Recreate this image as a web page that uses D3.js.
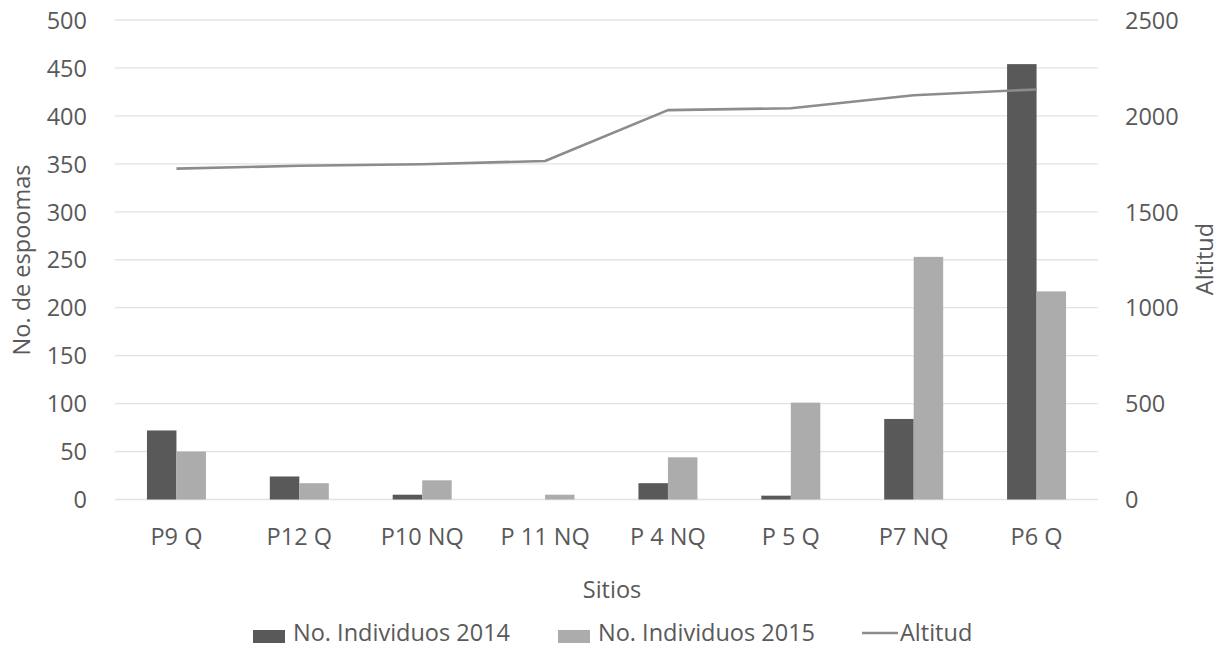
<!DOCTYPE html>
<html>
<head>
<meta charset="utf-8">
<script src="https://cdn.jsdelivr.net/npm/d3@7"></script>
<style>
  html, body { margin: 0; padding: 0; background: #fff; }
  svg text { font-family: "Open Sans", "Noto Sans", sans-serif; fill: #595959; }
</style>
</head>
<body>
<svg id="chart" width="1227" height="651"></svg>
<script>
// Sites sampled and their counts per year, plus the altitude of each site
const sites = ["P9 Q", "P12 Q", "P10 NQ", "P 11 NQ", "P 4 NQ", "P 5 Q", "P7 NQ", "P6 Q"];
const ind2014 = [72, 24, 5, 0, 17, 4, 84, 454];
const ind2015 = [50, 17, 20, 5, 44, 101, 253, 217];
const altitud = [1725, 1740, 1748, 1765, 2030, 2040, 2108, 2138];
const leftTicks = [0, 50, 100, 150, 200, 250, 300, 350, 400, 450, 500];
const rightTicks = [0, 500, 1000, 1500, 2000, 2500];
const seriesNames = ["No. Individuos 2014", "No. Individuos 2015", "Altitud"];

const colors = { y2014: "#595959", y2015: "#acacac", alt: "#8c8c8c", grid: "#e3e3e3" };
const fontSize = "23.5px";

const svg = d3.select("#chart");
const m = { left: 115, right: 1098, top: 20, bottom: 499.5 };

const x = d3.scaleBand().domain(sites).range([m.left, m.right]).paddingInner(0.52).paddingOuter(0.26);
const sub = d3.scaleBand().domain(["y2014", "y2015"]).range([0, x.bandwidth()]);
const yL = d3.scaleLinear().domain([0, 500]).range([m.bottom, m.top]);
const yR = d3.scaleLinear().domain([0, 2500]).range([m.bottom, m.top]);

// Horizontal grid lines
svg.append("g").selectAll("line").data(leftTicks).join("line")
  .attr("x1", m.left).attr("x2", m.right)
  .attr("y1", d => yL(d)).attr("y2", d => yL(d))
  .attr("stroke", colors.grid).attr("stroke-width", 1.3);

// Left axis
const axL = svg.append("g").attr("transform", `translate(${m.left - 28},0)`)
  .call(d3.axisLeft(yL).tickValues(leftTicks).tickSize(0).tickPadding(0));
axL.select(".domain").remove();
axL.selectAll("text").style("font-size", fontSize).attr("dy", "0.35em");

// Right axis
const axR = svg.append("g").attr("transform", `translate(${m.right + 27},0)`)
  .call(d3.axisRight(yR).tickValues(rightTicks).tickFormat(d3.format("d")).tickSize(0).tickPadding(0));
axR.select(".domain").remove();
axR.selectAll("text").style("font-size", fontSize).attr("dy", "0.35em");

// Bars
const groups = svg.append("g").selectAll("g").data(sites).join("g")
  .attr("transform", d => `translate(${x(d)},0)`);
groups.append("rect")
  .attr("x", sub("y2014")).attr("width", sub.bandwidth())
  .attr("y", (d, i) => yL(ind2014[i])).attr("height", (d, i) => yL(0) - yL(ind2014[i]))
  .attr("fill", colors.y2014);
groups.append("rect")
  .attr("x", sub("y2015")).attr("width", sub.bandwidth())
  .attr("y", (d, i) => yL(ind2015[i])).attr("height", (d, i) => yL(0) - yL(ind2015[i]))
  .attr("fill", colors.y2015);

// Altitude line on the secondary axis
const line = d3.line().x((d, i) => x(sites[i]) + x.bandwidth() / 2).y(d => yR(d));
svg.append("path").datum(altitud).attr("d", line)
  .attr("fill", "none").attr("stroke", colors.alt).attr("stroke-width", 2.6)
  .attr("stroke-linejoin", "round");

// Category labels
const axX = svg.append("g").attr("transform", `translate(0,${m.bottom + 37})`)
  .call(d3.axisBottom(x).tickSize(0).tickPadding(0));
axX.select(".domain").remove();
axX.selectAll("text").style("font-size", fontSize).attr("dy", "0.35em");

// Axis titles
svg.append("text").attr("x", 612).attr("y", 590).attr("dy", "0.35em").attr("text-anchor", "middle")
  .style("font-size", fontSize).text("Sitios");
svg.append("text").attr("transform", "translate(22,260) rotate(-90)").attr("dy", "0.35em").attr("text-anchor", "middle")
  .style("font-size", fontSize).text("No. de espoomas");
svg.append("text").attr("transform", "translate(1205,259) rotate(-90)").attr("dy", "0.35em").attr("text-anchor", "middle")
  .style("font-size", fontSize).text("Altitud");

// Legend
const legend = svg.append("g");
const items = [
  { name: seriesNames[0], type: "rect", color: colors.y2014, x: 253 },
  { name: seriesNames[1], type: "rect", color: colors.y2015, x: 558 },
  { name: seriesNames[2], type: "line", color: colors.alt, x: 862 }
];
items.forEach(it => {
  if (it.type === "rect") {
    legend.append("rect").attr("x", it.x).attr("y", 630).attr("width", 32).attr("height", 13).attr("fill", it.color);
  } else {
    legend.append("line").attr("x1", it.x).attr("x2", it.x + 36).attr("y1", 633).attr("y2", 633)
      .attr("stroke", it.color).attr("stroke-width", 2.6);
  }
  legend.append("text").attr("x", it.type === "rect" ? it.x + 40 : it.x + 38).attr("y", 633).attr("dy", "0.35em")
    .style("font-size", fontSize).text(it.name);
});
</script>
</body>
</html>
